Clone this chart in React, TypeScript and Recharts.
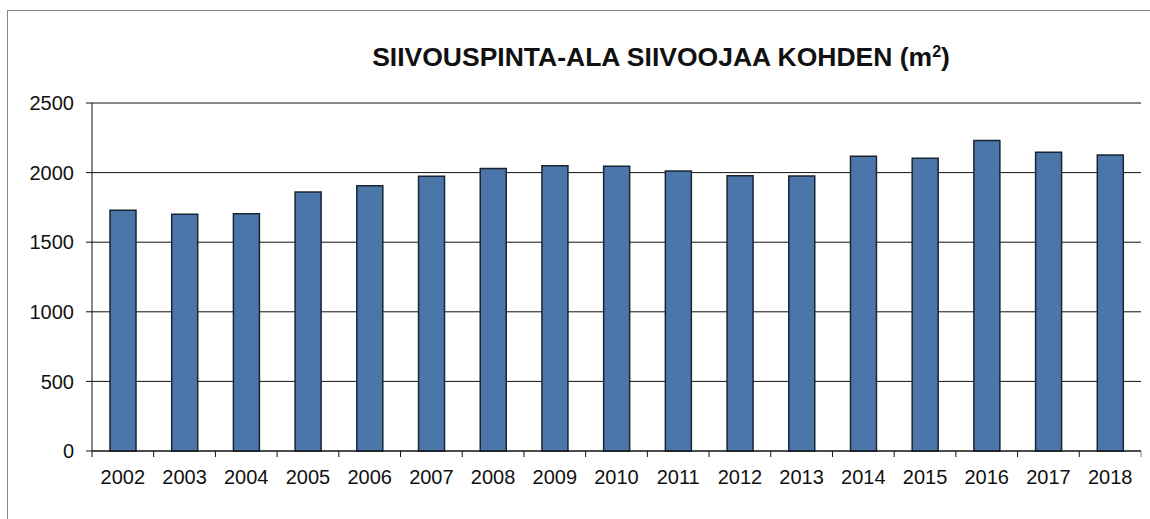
import React from "react";
import {
  BarChart,
  Bar,
  XAxis,
  YAxis,
  CartesianGrid,
  ReferenceLine,
} from "recharts";

const years = [
  "2002", "2003", "2004", "2005", "2006", "2007", "2008", "2009", "2010",
  "2011", "2012", "2013", "2014", "2015", "2016", "2017", "2018",
];

const areaPerCleaner = [
  1729, 1700, 1705, 1861, 1906, 1973, 2029, 2050, 2045,
  2012, 1978, 1975, 2117, 2103, 2230, 2146, 2127,
];

const yTicks = [0, 500, 1000, 1500, 2000, 2500];

const TITLE = "SIIVOUSPINTA-ALA SIIVOOJAA KOHDEN (m";
const FONT = '"Liberation Sans", Arial, sans-serif';
const TICK_SIZE = 6;
const TICK_MARGIN = 13;

const data = years.map((year, i) => ({ year, value: areaPerCleaner[i] }));

// x ticks sit on the category boundaries, labels in the middle
const YearTick = (props: any) => {
  const { x, y, payload, index } = props;
  const half = payload?.offset ?? 30.85;
  const axisY = y - TICK_SIZE - TICK_MARGIN;
  const left = x - half;
  return (
    <g>
      <line x1={left} x2={left} y1={axisY} y2={axisY + TICK_SIZE} stroke="#111" />
      {index === years.length - 1 && (
        <line
          x1={x + half}
          x2={x + half}
          y1={axisY}
          y2={axisY + TICK_SIZE}
          stroke="#777"
        />
      )}
      <text
        x={x}
        y={y}
        dy="0.71em"
        textAnchor="middle"
        fill="#111"
        fontSize={20}
        fontFamily={FONT}
      >
        {payload.value}
      </text>
    </g>
  );
};

export default function App() {
  return (
    <div
      style={{
        position: "absolute",
        left: 7,
        top: 10,
        width: 1143,
        height: 520,
        borderTop: "1px solid #888",
        borderLeft: "1px solid #888",
        background: "#fff",
        fontFamily: FONT,
      }}
    >
      <div
        style={{
          position: "absolute",
          left: 0,
          width: 1306,
          top: 31,
          textAlign: "center",
          fontSize: 26.5,
          fontWeight: "bold",
          color: "#111",
          lineHeight: "30px",
          whiteSpace: "nowrap",
        }}
      >
        {TITLE}
        <sup style={{ fontSize: 16, lineHeight: 0, verticalAlign: "0.55em" }}>2</sup>
        )
      </div>
      <BarChart
        width={1142}
        height={508}
        data={data}
        margin={{ top: 92, right: 9, left: 0, bottom: 28 }}
        style={{ position: "absolute", left: 0, top: 0 }}
      >
        <CartesianGrid vertical={false} stroke="#111" strokeWidth={1} />
        <XAxis
          dataKey="year"
          height={40}
          axisLine={{ stroke: "#111" }}
          tickLine={false}
          tickSize={TICK_SIZE}
          tickMargin={TICK_MARGIN}
          interval={0}
          tick={<YearTick />}
        />
        <YAxis
          width={84}
          domain={[0, 2500]}
          ticks={yTicks}
          axisLine={{ stroke: "#111" }}
          tickLine={{ stroke: "#111" }}
          tickSize={TICK_SIZE}
          tickMargin={12}
          tick={{ fill: "#111", fontSize: 20, fontFamily: FONT }}
        />
        <YAxis
          yAxisId="frame"
          orientation="right"
          width={0}
          domain={[0, 2500]}
          tick={false}
          tickLine={false}
          axisLine={{ stroke: "#888" }}
        />
        <ReferenceLine y={2500} stroke="#888" strokeWidth={1.5} />
        <Bar
          dataKey="value"
          fill="#4a76aa"
          stroke="#1b2433"
          strokeWidth={1.5}
          barSize={26}
          isAnimationActive={false}
        />
      </BarChart>
    </div>
  );
}
